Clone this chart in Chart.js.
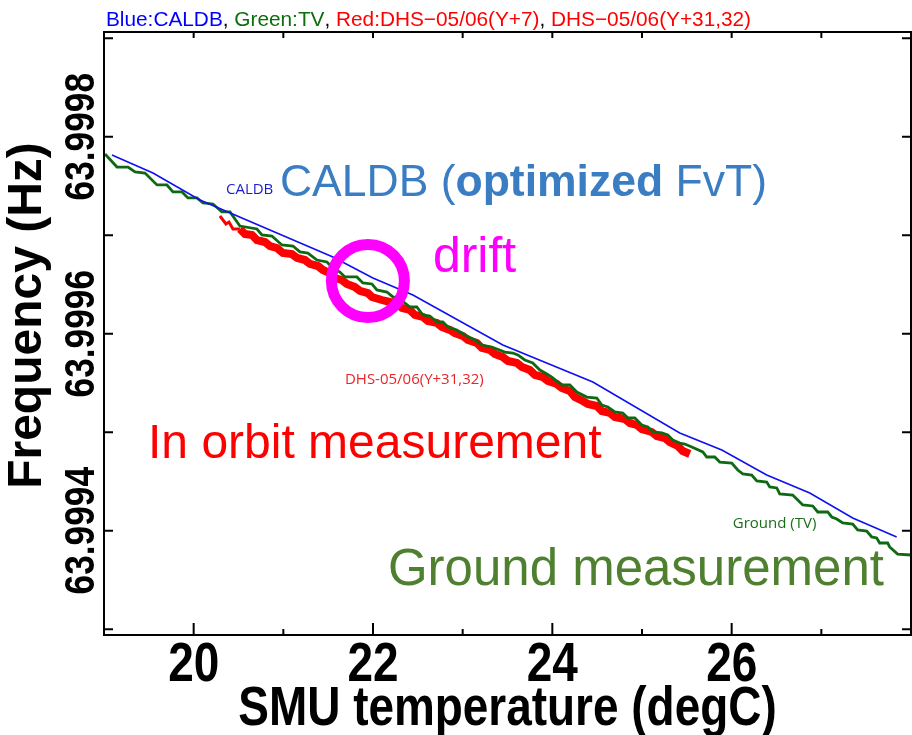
<!DOCTYPE html>
<html><head><meta charset="utf-8">
<script src="https://cdn.jsdelivr.net/npm/chart.js@4/dist/chart.umd.min.js"></script>
<style>html,body{margin:0;padding:0;background:#fff;}#wrap{width:912px;height:735px;position:relative;}</style>
</head><body><div id="wrap"><canvas id="c" width="912" height="735"></canvas></div>
<script>
// ---- data ----
const caldbTemp = [19.089, 19.546, 20.070, 21.553, 21.999, 22.445, 23.448, 24.452, 25.421, 25.890, 26.391, 26.871, 27.350, 27.840];
const caldbFreq = [63.9997814, 63.9997631, 63.9997357, 63.9996779, 63.9996565, 63.9996393, 63.9995885, 63.9995510, 63.9994992, 63.9994819, 63.9994565, 63.9994383, 63.9994129, 63.9993936];

const tvTemp = [19.011, 19.145, 19.268, 19.346, 19.457, 19.591, 19.702, 19.769, 19.870, 19.936, 20.037, 20.104, 20.215, 20.315, 20.405, 20.516, 20.706, 20.761, 20.873, 20.984, 21.107, 21.185, 21.274, 21.375, 21.486, 21.553, 21.631, 21.687, 21.820, 21.887, 21.988, 22.043, 22.155, 22.222, 22.300, 22.411, 22.489, 22.556, 22.634, 22.712, 22.779, 22.835, 22.935, 23.024, 23.136, 23.214, 23.325, 23.470, 23.560, 23.615, 23.693, 23.782, 23.861, 23.939, 23.994, 24.106, 24.195, 24.273, 24.384, 24.496, 24.552, 24.619, 24.697, 24.786, 24.842, 24.920, 24.998, 25.065, 25.121, 25.221, 25.288, 25.343, 25.421, 25.477, 25.555, 25.678, 25.722, 25.811, 25.868, 26.001, 26.068, 26.124, 26.224, 26.280, 26.391, 26.425, 26.503, 26.536, 26.681, 26.737, 26.793, 26.904, 26.960, 27.071, 27.116, 27.172, 27.238, 27.350, 27.405, 27.506, 27.562, 27.617, 27.651, 27.740, 27.762, 27.851, 28.000];
const tvFreq = [63.9997824, 63.9997692, 63.9997692, 63.9997642, 63.9997631, 63.9997510, 63.9997510, 63.9997439, 63.9997439, 63.9997378, 63.9997378, 63.9997327, 63.9997317, 63.9997236, 63.9997236, 63.9997093, 63.9997063, 63.9997002, 63.9996992, 63.9996901, 63.9996890, 63.9996830, 63.9996819, 63.9996748, 63.9996728, 63.9996667, 63.9996626, 63.9996576, 63.9996576, 63.9996515, 63.9996505, 63.9996444, 63.9996423, 63.9996373, 63.9996352, 63.9996271, 63.9996271, 63.9996190, 63.9996180, 63.9996119, 63.9996119, 63.9996068, 63.9996038, 63.9995987, 63.9995936, 63.9995885, 63.9995865, 63.9995814, 63.9995804, 63.9995784, 63.9995733, 63.9995703, 63.9995631, 63.9995591, 63.9995560, 63.9995479, 63.9995479, 63.9995408, 63.9995357, 63.9995347, 63.9995276, 63.9995256, 63.9995205, 63.9995195, 63.9995144, 63.9995144, 63.9995073, 63.9995053, 63.9995002, 63.9994992, 63.9994972, 63.9994921, 63.9994890, 63.9994880, 63.9994850, 63.9994799, 63.9994748, 63.9994748, 63.9994697, 63.9994687, 63.9994616, 63.9994576, 63.9994565, 63.9994505, 63.9994494, 63.9994444, 63.9994434, 63.9994373, 63.9994362, 63.9994312, 63.9994261, 63.9994251, 63.9994190, 63.9994190, 63.9994139, 63.9994119, 63.9994078, 63.9994068, 63.9994007, 63.9993997, 63.9993936, 63.9993926, 63.9993875, 63.9993875, 63.9993835, 63.9993763, 63.9993753];

const dhsTemp = [20.293, 20.360, 20.394, 20.438, 20.516, 20.572, 20.650, 20.706, 20.795, 20.851, 20.929, 20.995, 21.096, 21.152, 21.241, 21.297, 21.386, 21.441, 21.519, 21.575, 21.653, 21.709, 21.798, 21.854, 21.943, 21.988, 22.099, 22.188, 22.266, 22.322, 22.411, 22.467, 22.556, 22.612, 22.712, 22.768, 22.857, 22.913, 23.002, 23.058, 23.158, 23.214, 23.303, 23.359, 23.448, 23.504, 23.604, 23.660, 23.749, 23.805, 23.894, 23.950, 24.050, 24.106, 24.195, 24.251, 24.340, 24.396, 24.496, 24.552, 24.641, 24.697, 24.808, 24.864, 24.942, 24.998, 25.109, 25.165, 25.254, 25.310, 25.399, 25.455, 25.533];
const dhsFreq = [63.9997195, 63.9997114, 63.9997134, 63.9997063, 63.9997063, 63.9997012, 63.9997002, 63.9996951, 63.9996931, 63.9996890, 63.9996870, 63.9996819, 63.9996809, 63.9996769, 63.9996748, 63.9996708, 63.9996687, 63.9996647, 63.9996616, 63.9996565, 63.9996545, 63.9996505, 63.9996474, 63.9996434, 63.9996413, 63.9996373, 63.9996342, 63.9996322, 63.9996312, 63.9996261, 63.9996241, 63.9996190, 63.9996170, 63.9996129, 63.9996109, 63.9996068, 63.9996038, 63.9996007, 63.9995977, 63.9995936, 63.9995906, 63.9995855, 63.9995835, 63.9995794, 63.9995763, 63.9995723, 63.9995703, 63.9995662, 63.9995631, 63.9995581, 63.9995560, 63.9995520, 63.9995489, 63.9995449, 63.9995418, 63.9995357, 63.9995317, 63.9995286, 63.9995266, 63.9995215, 63.9995195, 63.9995154, 63.9995134, 63.9995093, 63.9995073, 63.9995032, 63.9995002, 63.9994961, 63.9994941, 63.9994900, 63.9994860, 63.9994809, 63.9994779];

const driftTemp = [21.943];
const driftFreq = [63.9996535];

const xTickValues = [19, 20, 21, 22, 23, 24, 25, 26, 27, 28];
const xTickLabels = ['', '20', '', '22', '', '24', '', '26', '', ''];
const xMajorTicks = [20, 22, 24, 26, 28];
const yTickValues = [63.9993, 63.9994, 63.9995, 63.9996, 63.9997, 63.9998, 63.9999];
const yTickLabels = ['', '63.9994', '', '63.9996', '', '63.9998', ''];

// ---- helpers ----
const pts = (xs, ys) => xs.map((v, i) => ({x: v, y: ys[i]}));
const SANS = "'Liberation Sans', Arial, sans-serif";
const OPEN = "'Open Sans', 'Noto Sans', sans-serif";

// linear scale whose labels/title can be drawn condensed along the text direction
class NarrowLinear extends Chart.LinearScale {
  _withNarrow(k, fn) {
    const ctx = this.ctx;
    if (!k || k === 1) { fn(); return; }
    const orig = CanvasRenderingContext2D.prototype.fillText;
    ctx.fillText = function (t, x, y, mw) {
      this.save(); this.scale(k, 1);
      if (mw === undefined) orig.call(this, t, x / k, y); else orig.call(this, t, x / k, y, mw / k);
      this.restore();
    };
    try { fn(); } finally { delete ctx.fillText; }
  }
  drawLabels(chartArea) { this._withNarrow(this.options.labelCondense, () => super.drawLabels(chartArea)); }
  drawTitle() {
    const ctx = this.ctx;
    ctx.save();
    ctx.translate(0, this.options.titleShift || 0);
    this._withNarrow(this.options.titleCondense, () => super.drawTitle());
    ctx.restore();
  }
}
NarrowLinear.id = 'narrowLinear';
NarrowLinear.defaults = {};
Chart.register(NarrowLinear);

const topLegend = [
  {text: 'Blue:CALDB', color: '#0000ff'},
  {text: ', ', color: '#000000'},
  {text: 'Green:TV', color: '#0a6e0a'},
  {text: ', ', color: '#000000'},
  {text: 'Red:DHS\u221205/06(Y+7)', color: '#ff0000'},
  {text: ', ', color: '#000000'},
  {text: 'DHS\u221205/06(Y+31,32)', color: '#ff0000'}
];

const notes = [
  {parts: [{t: 'CALDB', f: '15px ' + OPEN}], x: 20.360, y: 63.9997418, color: '#1a1ad0'},
  {parts: [{t: 'CALDB (', f: '44.5px ' + SANS}, {t: 'optimized', f: 'bold 44.5px ' + SANS}, {t: ' FvT)', f: '44.5px ' + SANS}], x: 20.962, y: 63.9997398, color: '#3b7dc2'},
  {parts: [{t: 'drift', f: '50px ' + SANS}], x: 22.668, y: 63.9996626, color: '#ff00ff'},
  {parts: [{t: 'DHS-05/06(Y+31,32)', f: '15px ' + OPEN}], x: 21.687, y: 63.9995489, color: '#e8262a'},
  {parts: [{t: 'In orbit measurement', f: '48px ' + SANS}], x: 19.491, y: 63.9994738, color: '#ff0000'},
  {parts: [{t: 'Ground (TV)', f: '15px ' + OPEN}], x: 26.012, y: 63.9994027, color: '#1a6e1a'},
  {parts: [{t: 'Ground measurement', f: '51px ' + SANS}], x: 22.166, y: 63.9993449, color: '#4e8030'}
];

const framePlugin = {
  id: 'frame',
  afterDraw(chart) {
    const {ctx, chartArea: a, scales: {x, y}} = chart;
    ctx.save();
    ctx.strokeStyle = '#000';
    ctx.lineWidth = 2;
    ctx.strokeRect(a.left, a.top, a.right - a.left, a.bottom - a.top);
    ctx.beginPath();
    xTickValues.forEach(v => {
      const px = x.getPixelForValue(v);
      const len = xMajorTicks.includes(v) ? 12 : 6;
      ctx.moveTo(px, a.bottom); ctx.lineTo(px, a.bottom - len);
      ctx.moveTo(px, a.top); ctx.lineTo(px, a.top + 6);
    });
    yTickValues.forEach(v => {
      const py = y.getPixelForValue(v);
      if (py < a.top || py > a.bottom) return;
      ctx.moveTo(a.left, py); ctx.lineTo(a.left + 9, py);
      ctx.moveTo(a.right, py); ctx.lineTo(a.right - 9, py);
    });
    ctx.stroke();
    // top legend line
    ctx.font = '20.8px ' + SANS;
    ctx.textBaseline = 'alphabetic';
    ctx.textAlign = 'left';
    let cx = 106;
    topLegend.forEach(s => { ctx.fillStyle = s.color; ctx.fillText(s.text, cx, 26); cx += ctx.measureText(s.text).width; });
    // annotations
    notes.forEach(n => {
      let px = x.getPixelForValue(n.x);
      const py = y.getPixelForValue(n.y);
      ctx.fillStyle = n.color;
      n.parts.forEach(p => { ctx.font = p.f; ctx.fillText(p.t, px, py); px += ctx.measureText(p.t).width; });
    });
    ctx.restore();
  }
};

new Chart(document.getElementById('c'), {
  type: 'line',
  data: {
    datasets: [
      {label: 'drift', data: pts(driftTemp, driftFreq), showLine: false, pointRadius: 36.5, pointBorderWidth: 11, pointBorderColor: '#ff00ff', pointBackgroundColor: 'rgba(0,0,0,0)', pointStyle: 'circle'},
      {label: 'CALDB', data: pts(caldbTemp, caldbFreq), borderColor: '#1010f0', borderWidth: 1.6, pointRadius: 0, tension: 0},
      {label: 'TV', data: pts(tvTemp, tvFreq), borderColor: '#0e6a12', borderWidth: 2.8, pointRadius: 0, tension: 0, borderJoinStyle: 'miter'},
      {label: 'DHS-05/06', data: pts(dhsTemp, dhsFreq), borderColor: '#ff0000', borderWidth: 8, pointRadius: 0, tension: 0, borderJoinStyle: 'miter', borderCapStyle: 'butt',
        segment: {borderWidth: c => c.p0DataIndex < 4 ? 3 : 8}}
    ]
  },
  options: {
    responsive: false,
    animation: false,
    devicePixelRatio: 1,
    layout: {autoPadding: false, padding: {top: 32, right: 1, left: 0, bottom: 0}},
    plugins: {legend: {display: false}, tooltip: {enabled: false}, title: {display: false}},
    scales: {
      x: {
        type: 'narrowLinear', position: 'bottom', min: 19, max: 28,
        labelCondense: 0.82, titleCondense: 0.82,
        grid: {display: false, drawTicks: false},
        border: {display: false},
        afterBuildTicks: s => { s.ticks = xTickValues.map(v => ({value: v})); },
        afterFit: s => { s.height = 100; s.paddingLeft = 0; s.paddingRight = 0; },
        ticks: {
          autoSkip: false, maxRotation: 0, minRotation: 0, padding: 3, color: '#000',
          font: {family: SANS, size: 56, weight: 'bold', lineHeight: 1},
          callback: (v, i) => xTickLabels[i]
        },
        title: {display: true, text: 'SMU temperature (degC)', color: '#000', font: {family: SANS, size: 56, weight: 'bold', lineHeight: 1}, padding: {top: 0, bottom: -3}}
      },
      y: {
        type: 'narrowLinear', position: 'left', min: 63.9992941, max: 63.9999063,
        labelCondense: 0.84, titleShift: -18,
        grid: {display: false, drawTicks: false},
        border: {display: false},
        afterBuildTicks: s => { s.ticks = yTickValues.map(v => ({value: v})); },
        afterFit: s => { s.width = 104; s.paddingTop = 0; s.paddingBottom = 0; },
        ticks: {
          autoSkip: false, minRotation: 90, maxRotation: 90, crossAlign: 'center', padding: -54, color: '#000',
          font: {family: SANS, size: 42, weight: 'bold', lineHeight: 1},
          callback: (v, i) => yTickLabels[i]
        },
        title: {display: true, text: 'Frequency (Hz)', color: '#000', font: {family: SANS, size: 48, weight: 'bold', lineHeight: 1}, padding: {top: 4, bottom: 0}}
      }
    }
  },
  plugins: [framePlugin]
});
</script>
</body></html>
